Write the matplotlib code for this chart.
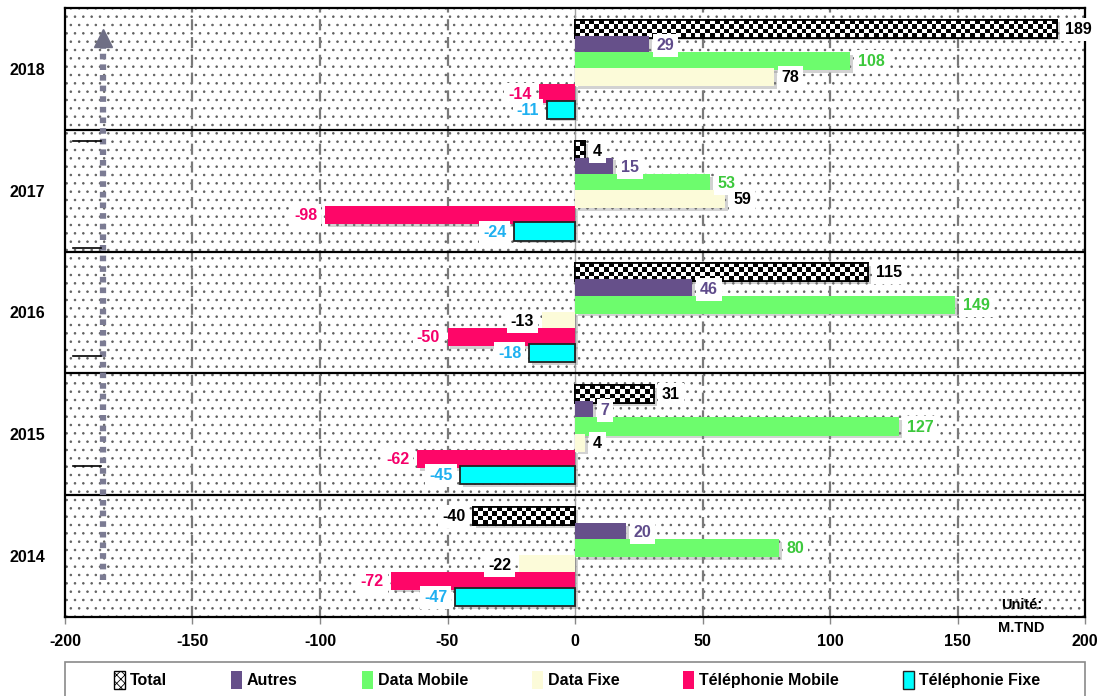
import numpy as np
import matplotlib
matplotlib.use("Agg")
import matplotlib.pyplot as plt
from matplotlib.patches import Rectangle, Patch
import matplotlib.patheffects as pe

plt.rcParams['font.family'] = ['Liberation Sans', 'DejaVu Sans']
plt.rcParams['font.weight'] = 'bold'
plt.rcParams['hatch.linewidth'] = 0.6

years = ['2014', '2015', '2016', '2017', '2018']
series = ['Total', 'Autres', 'Data Mobile', 'Data Fixe', 'Téléphonie Mobile', 'Téléphonie Fixe']
total = [-40, 31, 115, 4, 189]
autres = [20, 7, 46, 15, 29]
data_mobile = [80, 127, 149, 53, 108]
data_fixe = [-22, 4, -13, 59, 78]
tel_mobile = [-72, -62, -50, -98, -14]
tel_fixe = [-47, -45, -18, -24, -11]
values = [total, autres, data_mobile, data_fixe, tel_mobile, tel_fixe]
xticks = [-200, -150, -100, -50, 0, 50, 100, 150, 200]

face = ['white', '#66508a', '#6dfc6d', '#fcfbd9', '#fe0668', '#00ffff']
edge = ['black', 'none', 'none', 'none', 'none', '#222222']
lab_col = ['black', '#5f4b8b', '#3cc83c', 'black', '#f5006a', '#1fb0f0']
offsets = [0.33, 0.197, 0.064, -0.069, -0.202, -0.335]
bar_h = 0.148

fig = plt.figure(figsize=(11.03, 6.96), dpi=100)
ax = fig.add_axes([65/1103, 1-617/696, 1020/1103, 609/696])
ax.set_xlim(-200, 200)
ax.set_ylim(-0.5, 4.5)

# dotted background
bg = Rectangle((0, 0), 1, 1, transform=ax.transAxes, facecolor='white',
               edgecolor='#606060', hatch='..', lw=0, zorder=0)
ax.add_patch(bg)

# grid lines
for xv in xticks:
    if xv in (-200, 200):
        continue
    if xv == 0:
        ax.axvline(0, color='#a0a0a0', lw=1.0, zorder=1)
    else:
        ax.axvline(xv, color='#7a7a7a', lw=1.6, ls=(0, (5, 3)), zorder=1)

# year separators
for yv in [0.5, 1.5, 2.5, 3.5]:
    ax.axhline(yv, color='black', lw=1.6, zorder=1.5)

ypos = np.arange(len(years))
shadow = [pe.SimplePatchShadow(offset=(2, -2), shadow_rgbFace='#808080', alpha=0.35), pe.Normal()]

for i, (vals, off) in enumerate(zip(values, offsets)):
    bars = ax.barh(ypos + off, vals, height=bar_h, color=face[i],
                   edgecolor=edge[i], lw=1.3 if edge[i] != 'none' else 0,
                   zorder=3 + i * 0.1)
    for b in bars:
        b.set_path_effects(shadow)
    if i == 0:
        for b, v, y in zip(bars, vals, ypos + off):
            ncols = max(1, int(round(abs(v) * 2.55 / 4.8)))
            nrows = 4
            chk = (np.indices((nrows, ncols)).sum(0) % 2).astype(float)
            x0, x1 = min(0, v), max(0, v)
            im = ax.imshow(chk, cmap='gray', extent=[x0, x1, y - bar_h/2, y + bar_h/2],
                           origin='lower', aspect='auto', interpolation='nearest',
                           zorder=3.01, vmin=0, vmax=1)
            im.set_clip_path(b)
            ax.add_patch(Rectangle((x0, y - bar_h/2), x1 - x0, bar_h, fill=False,
                                   edgecolor='black', lw=1.3, zorder=3.02))
    for v, y in zip(vals, ypos + off):
        if v >= 0:
            x, ha = v + 3.0, 'left'
        else:
            x, ha = v - 3.0, 'right'
        ax.text(x, y - 0.005, f'{v}', ha=ha, va='center', fontsize=11.5, fontweight='bold',
                color=lab_col[i], zorder=6,
                bbox=dict(boxstyle='square,pad=0.25', facecolor='white', edgecolor='none'))

ax.set_xlim(-200, 200)
ax.set_ylim(-0.5, 4.5)

# dotted arrow
ax.plot([-185, -185], [-0.2, 4.2], color='#7b7b93', lw=4.5, ls=(0, (0.9, 0.8)),
        solid_capstyle='butt', dash_capstyle='butt', zorder=2)
ax.plot([-185], [4.255], marker='^', ms=13, color='#6f6f85', zorder=2)

# small black marks at left
marks_y = [3.41, 2.53, 1.64, 0.74]
for my in marks_y:
    ax.plot([-197, -186], [my, my], color='black', lw=1.2, zorder=2)

ax.set_yticks(ypos)
ax.set_yticklabels(years, fontsize=11.5, fontweight='bold')
ax.tick_params(axis='y', length=0, pad=14)
ax.set_xticks(xticks)
ax.set_xticklabels([str(t) for t in xticks], fontsize=11.5, fontweight='bold')
ax.tick_params(axis='x', length=5, width=1, color='#888888', pad=7)
for s in ax.spines.values():
    s.set_color('black')
    s.set_linewidth(1.6)

ax.text(175, 0.02, 'Unité:', transform=ax.get_xaxis_transform(), ha='center', va='center',
        fontsize=10.5, fontweight='bold', zorder=7)
ax.text(175, -0.018, 'M.TND', transform=ax.get_xaxis_transform(), ha='center', va='center',
        fontsize=10.5, fontweight='bold', clip_on=False, zorder=7)

# legend
handles = [Patch(facecolor='white', edgecolor='black', hatch='xxxx', lw=1.0),
           Patch(facecolor=face[1]), Patch(facecolor=face[2]), Patch(facecolor=face[3]),
           Patch(facecolor=face[4]), Patch(facecolor=face[5], edgecolor='#222222', lw=1.0)]
fig.add_artist(Rectangle((65/1103, -0.02), 1020/1103, 0.02 + 1 - 662/696,
                         transform=fig.transFigure, fill=False, edgecolor='#8a8a8a', lw=1.2))
leg = fig.legend(handles, series, loc='center', bbox_to_anchor=(577/1103, 1 - 680/696),
                 ncol=6, frameon=False, handlelength=0.7, handleheight=1.3,
                 handletextpad=0.3, columnspacing=4.0,
                 prop={'weight': 'bold', 'size': 11.5})

fig.savefig('out.png', dpi=100)
